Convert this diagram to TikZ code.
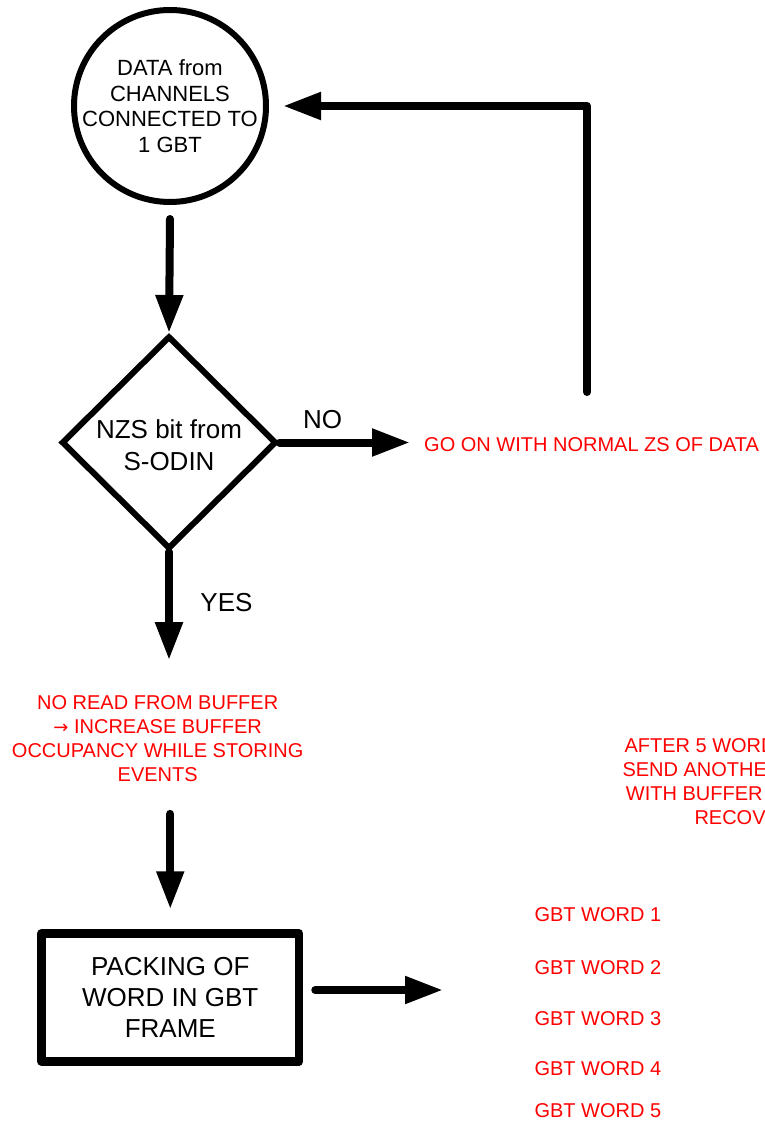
\documentclass[tikz,border=0pt]{standalone}
\usepackage{fontspec}
\setmainfont{Liberation Sans}
\newfontfamily\arrowglyph{DejaVu Sans}
\usetikzlibrary{arrows.meta,shapes.geometric}
\begin{document}
\begin{tikzpicture}[x=1pt,y=-1pt,
  arr/.style={line width=8pt, line cap=round, line join=round, -{Triangle[length=38pt,width=26pt]}},
  redtxt/.style={text=red, inner sep=0pt, font=\fontsize{20}{24}\selectfont},
  blktxt/.style={text=black, inner sep=0pt, align=center, font=\fontsize{26}{31}\selectfont}]
\useasboundingbox (0,0) rectangle (764,1123);
\clip (0,0) rectangle (764,1123);

% shapes
\node[circle, draw, line width=6pt, minimum size=192pt, inner sep=0pt] (data) at (170,106) {};
\node[inner sep=0pt, align=center, font=\fontsize{22}{25.5}\selectfont] (datatxt) at (data.center) {DATA from\\CHANNELS\\CONNECTED TO\\1 GBT};

\node[diamond, draw, line width=6pt, minimum width=215pt, minimum height=213pt, inner sep=0pt] (nzs) at (169,442.5) {};
\node[blktxt, font=\fontsize{26}{32}\selectfont] (nzstxt) at (169,444.8) {NZS bit from\\S-ODIN};

\node[draw, line width=8.5pt, line join=round, minimum width=257.5pt, minimum height=128pt, inner sep=0pt] (pack) at (170.25,997.5) {};
\node[blktxt] (packtxt) at (pack.center) {PACKING OF\\WORD IN GBT\\FRAME};

% labels
\node[blktxt] (no) at (322.5,420) {NO};
\node[blktxt] (yes) at (226.5,603) {YES};

\node[redtxt, anchor=west] (go) at (424,445) {GO ON WITH NORMAL ZS OF DATA};
\node[redtxt, align=center, font=\fontsize{20}{24.2}\selectfont] (nore) at (157.7,738.8) {NO READ FROM BUFFER\\{\arrowglyph\fontsize{18}{20}\selectfont →} INCREASE BUFFER\\OCCUPANCY WHILE STORING\\EVENTS};

\node[redtxt, anchor=west] (after1) at (624.3,745.8) {AFTER 5 WORD};
\node[redtxt, anchor=west] (after2) at (622.3,769.8) {SEND ANOTHER};
\node[redtxt, anchor=west] (after3) at (625.7,793.5) {WITH BUFFER};
\node[redtxt, anchor=west] (after4) at (694.3,818) {RECOV};

\node[redtxt, anchor=west] (w1) at (534.3,915) {GBT WORD 1};
\node[redtxt, anchor=west] (w2) at (534.3,967.3) {GBT WORD 2};
\node[redtxt, anchor=west] (w3) at (534.3,1018.3) {GBT WORD 3};
\node[redtxt, anchor=west] (w4) at (534.3,1068.3) {GBT WORD 4};
\node[redtxt, anchor=west] (w5) at (534.3,1110.7) {GBT WORD 5};

% connectors
\coordinate (fb) at (587,392);
\coordinate (win) at (443,990);
\draw[arr] ([yshift=-14pt]data.south) -- (nzs.north);
\draw[arr] (nzs.east) -- ([xshift=-14pt]go.west |- nzs.east);
\draw[arr] (fb) |- ([xshift=14pt]data.east);
\draw[arr] (nzs.south) -- ([yshift=35pt]nore.north -| nzs.south);
\draw[arr] ([yshift=-31.5pt]nore.south -| pack.north) -- ([yshift=20pt]pack.north);
\draw[arr] ([xshift=12pt]pack.east |- win) -- (win);
\end{tikzpicture}
\end{document}
